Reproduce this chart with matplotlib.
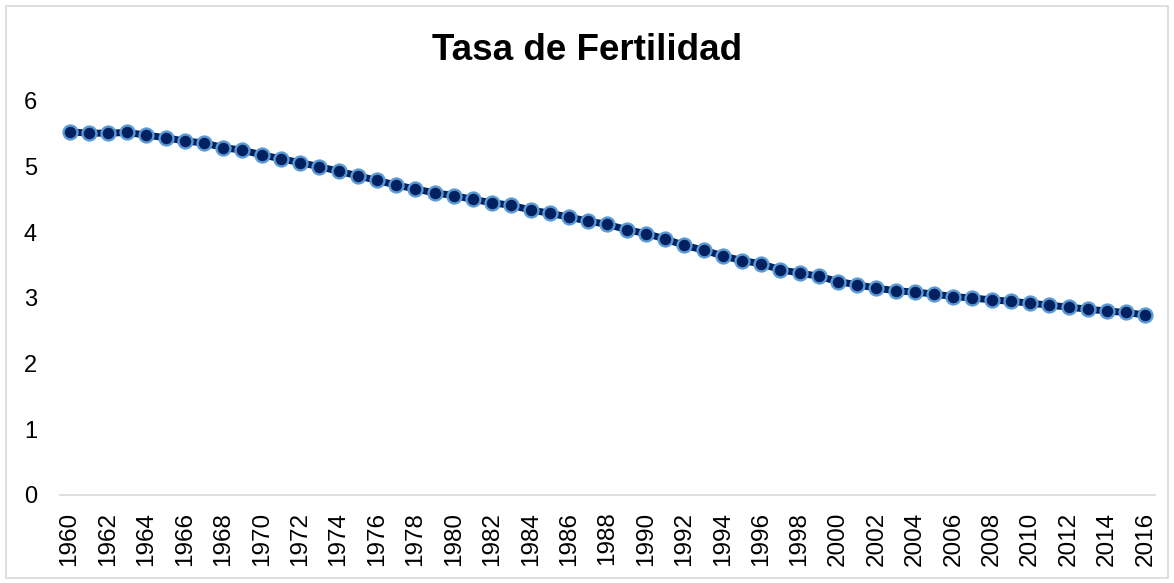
import numpy as np
import matplotlib.pyplot as plt
from matplotlib.patches import Rectangle

plt.rcParams['font.family'] = ['Liberation Sans', 'DejaVu Sans']

# ---- 数据 ----
years = list(range(1960, 2017))
fertility = [
    5.53, 5.51, 5.51, 5.52, 5.48, 5.44, 5.39, 5.36, 5.29, 5.25,
    5.18, 5.12, 5.06, 5.00, 4.93, 4.86, 4.79, 4.72, 4.66, 4.60,
    4.56, 4.50, 4.45, 4.41, 4.34, 4.29, 4.23, 4.17, 4.12, 4.04,
    3.98, 3.90, 3.80, 3.73, 3.64, 3.57, 3.52, 3.43, 3.38, 3.33,
    3.25, 3.20, 3.15, 3.11, 3.09, 3.06, 3.02, 3.00, 2.97, 2.95,
    2.92, 2.89, 2.86, 2.83, 2.80, 2.78, 2.74,
]
yticks = [0, 1, 2, 3, 4, 5, 6]

fig = plt.figure(figsize=(11.74, 5.83), dpi=100)
ax = fig.add_axes([0.0511, 0.151, 0.9327, 0.6758])

x = np.arange(len(years))
ax.plot(x, fertility, '-', color='#002060', linewidth=5, zorder=2)
ax.plot(x, fertility, 'o', markersize=10, markerfacecolor='#002060',
        markeredgecolor='#5B9BD5', markeredgewidth=1.7, zorder=3)

ax.set_xlim(-0.5, len(years) - 0.5)
ax.set_ylim(0, 6)
ax.set_yticks(yticks)
ax.set_yticklabels([str(v) for v in yticks], fontsize=17)
ax.set_xticks(x[::2])
ax.set_xticklabels([str(y) for y in years[::2]], rotation=90, fontsize=17.5)
ax.tick_params(axis='both', length=0)
ax.tick_params(axis='y', pad=16.5)
ax.tick_params(axis='x', pad=12)

for s in ['top', 'right', 'left']:
    ax.spines[s].set_visible(False)
ax.spines['bottom'].set_color('#D9D9D9')
ax.spines['bottom'].set_linewidth(1.2)

fig.text(0.5, 0.913, 'Tasa de Fertilidad', ha='center', va='center',
         fontsize=26.5, fontweight='bold')

# 图表外框
fig.patches.append(Rectangle((6 / 1174, 5 / 583), 1162 / 1174, 572 / 583,
                             transform=fig.transFigure, fill=False,
                             edgecolor='#D9D9D9', linewidth=1.2))

plt.savefig('out.png', dpi=100)
